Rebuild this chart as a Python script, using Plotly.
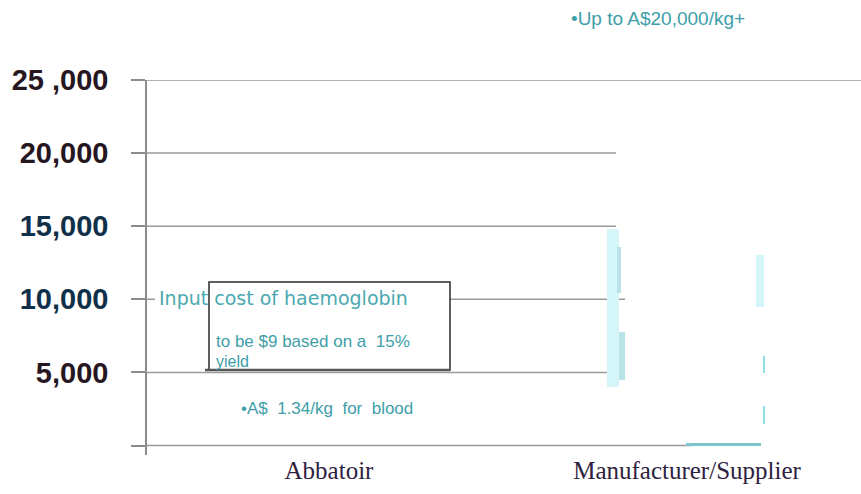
import plotly.graph_objects as go

# ---- data -------------------------------------------------------------
categories = ["Abbatoir", "Manufacturer/Supplier"]
y_ticks = [0, 5000, 10000, 15000, 20000, 25000]
y_tick_labels = ["", "5,000", "10,000", "15,000", "20,000", "25 ,000"]

# floating price bands at the manufacturer/supplier stage (A$/kg)
band_low = [4000, 10400, 4500, 9500, 4950, 1500, 0]
band_high = [14800, 13600, 7750, 13000, 6100, 2700, 200]

# ---- layout helpers -------------------------------------------------------
W, H = 861, 494
L, T, B = 147, 80, 39
PX_PER_CAT = 358.0
CAT1_PX = 329.0
Y_MIN, Y_MAX = -650, 25000
PLOT_H = H - T - B
PLOT_W = W - L


def xd(px):
    """screen x -> x data units"""
    return 1 + (px - CAT1_PX) / PX_PER_CAT


def yd(py):
    """screen y -> y data units"""
    return Y_MAX - (py - T) * (Y_MAX - Y_MIN) / PLOT_H


def xp(px):
    """screen x -> paper fraction"""
    return (px - L) / PLOT_W


def yp(py):
    """screen y -> paper fraction"""
    return (H - B - py) / PLOT_H


# bar placement around the second category (pixel offset, pixel width, colour)
bar_style = [
    (-74, 12, "#d5f6f8"),
    (-68, 4.5, "#b9e3e7"),
    (-65, 6, "#b9e3e7"),
    (73, 8, "#d5f6f8"),
    (77, 2.5, "#8edfe7"),
    (77, 2.5, "#8edfe7"),
    (36.5, 75, "#7ec6ce"),
]

fig = go.Figure()
for lo, hi, (off, w, col) in zip(band_low, band_high, bar_style):
    fig.add_trace(go.Bar(
        x=[2 + off / PX_PER_CAT], y=[hi - lo], base=[lo],
        width=[w / PX_PER_CAT], marker=dict(color=col, line=dict(width=0)),
        showlegend=False, hoverinfo="skip"))

# ---- gridlines of uneven length -------------------------------------
grid_end = {0: 692, 5000: 625, 15000: 616, 20000: 616, 25000: 861}
shapes = []
for v, end in grid_end.items():
    shapes.append(dict(type="line", xref="paper", yref="y", x0=0, x1=xp(end),
                       y0=v, y1=v, line=dict(color="#9a9a9a", width=1.5),
                       layer="below"))
# 10,000 line: short stub by the axis, then to the right of the callout
shapes.append(dict(type="line", xref="paper", yref="y", x0=0, x1=xp(155),
                   y0=10000, y1=10000, line=dict(color="#9a9a9a", width=1.5),
                   layer="below"))
shapes.append(dict(type="line", xref="paper", yref="y", x0=xp(450), x1=xp(625),
                   y0=10000, y1=10000, line=dict(color="#9a9a9a", width=1.5),
                   layer="below"))

# callout box
shapes.append(dict(type="rect", xref="x", yref="y", x0=xd(209), x1=xd(450),
                   y0=yd(370), y1=yd(282), fillcolor="white",
                   line=dict(color="#2b2b2b", width=1.5), layer="above"))
shapes.append(dict(type="line", xref="x", yref="y", x0=xd(205), x1=xd(450),
                   y0=yd(370), y1=yd(370), line=dict(color="#555555", width=2.5),
                   layer="above"))

teal = "#3e9ea8"
sans = "Liberation Sans, Arial, sans-serif"
annotations = [
    dict(text="•Up to A$20,000/kg+", x=xp(569), y=yp(18),
         font=dict(size=19, color=teal, family=sans)),
    dict(text="Input cost of haemoglobin", x=xp(157), y=yp(298), font=dict(size=19, color="#4aa9b1", family="DejaVu Sans, sans-serif")),
    dict(text="to be $9 based on a  15%", x=xp(214), y=yp(341), font=dict(size=17, color=teal, family=sans)),
    dict(text="yield", x=xp(214), y=yp(361), font=dict(size=16, color=teal, family=sans)),
    dict(text="•A$  1.34/kg  for  blood", x=xp(239), y=yp(408), font=dict(size=17, color=teal, family=sans)),
]
for a in annotations:
    a.update(xref="paper", yref="paper", xanchor="left", yanchor="middle", showarrow=False)

dark = "#26161f"
navy = "#10304a"
tick_colors = [dark, dark, navy, navy, dark, dark]
tick_text = [f'<span style="color:{c}">{t}</span>' for t, c in zip(y_tick_labels, tick_colors)]

fig.update_layout(
    width=W, height=H,
    margin=dict(l=L, r=0, t=T, b=B, pad=0, autoexpand=False),
    paper_bgcolor="white", plot_bgcolor="white",
    barmode="overlay", bargap=0,
    shapes=shapes, annotations=annotations,
    xaxis=dict(range=[xd(L), xd(W)], tickvals=[1, 2], ticktext=categories,
               showgrid=False, zeroline=False, showline=False, ticks="",
               automargin=False,
               tickfont=dict(family="Liberation Serif, Times New Roman, serif", size=25, color="#2e2240"),
               ticklabelstandoff=-2, fixedrange=True),
    yaxis=dict(range=[Y_MIN, Y_MAX], tickvals=y_ticks, ticktext=tick_text,
               showgrid=False, zeroline=False, showline=True, linecolor="#8c8c8c",
               linewidth=1.5, ticks="outside", ticklen=14, tickwidth=1.5,
               automargin=False,
               tickcolor="#8c8c8c", ticklabelstandoff=17,
               tickfont=dict(family=sans, size=29, color=dark, weight="bold"),
               fixedrange=True),
)

fig.write_html("out.html")
